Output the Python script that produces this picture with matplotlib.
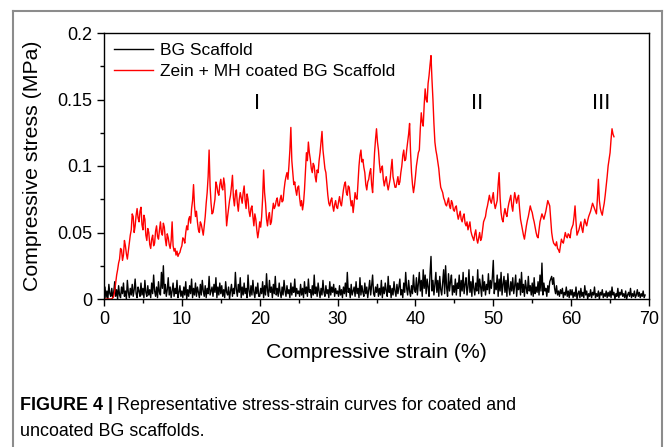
import numpy as np
import matplotlib
matplotlib.use("Agg")
import matplotlib.pyplot as plt
from matplotlib.lines import Line2D

plt.rcParams['font.family'] = ['Liberation Sans', 'DejaVu Sans']

# Daten (Spannung in 0.001 MPa, Dehnungsschritt 0.125 %)
step = 0.125

# BG Scaffold (unbeschichtet), 0 ... 69.5 %
bg_milli = [
    3, 9, 1, 6, 0, 11, 4, 2, 8, 1, 5, 13, 2, 7, 0, 10, 3, 1, 9, 4, 12, 2, 6, 0, 14, 5, 1, 8, 3, 11, 2, 7, 15, 4, 1, 9, 6, 2, 12, 3,
    8, 1, 14, 5, 2, 10, 3, 7, 1, 12, 4, 18, 6, 2, 9, 1, 13, 5, 3, 20, 8, 25, 4, 11, 2, 7, 16, 3, 9, 1, 6, 12, 2, 8, 4, 14, 1, 5, 10, 2,
    6, 1, 9, 3, 13, 0, 7, 2, 10, 4, 15, 1, 8, 3, 12, 2, 9, 5, 1, 11, 3, 14, 6, 2, 10, 1, 8, 4, 17, 3, 6, 9, 2, 11, 5, 16, 1, 9, 3, 12,
    4, 10, 2, 7, 1, 13, 5, 3, 9, 0, 6, 11, 2, 8, 4, 20, 7, 2, 11, 5, 16, 1, 9, 3, 12, 4, 8, 1, 18, 6, 2, 10, 3, 14, 5, 1, 9, 4, 12, 2,
    2, 8, 4, 13, 1, 10, 3, 19, 6, 2, 14, 5, 9, 1, 11, 4, 17, 3, 8, 2, 12, 5, 1, 9, 3, 14, 6, 2, 10, 4, 7, 1, 12, 3, 9, 5, 15, 2, 8, 4,
    6, 2, 11, 3, 8, 1, 13, 4, 9, 2, 15, 5, 7, 1, 10, 3, 18, 4, 9, 2, 12, 6, 1, 8, 3, 14, 5, 2, 10, 4, 7, 1, 13, 3, 9, 5, 11, 2, 8, 4,
    6, 2, 10, 3, 7, 1, 9, 4, 12, 2, 20, 5, 8, 1, 11, 3, 6, 9, 2, 13, 4, 8, 1, 16, 3, 10, 5, 2, 12, 4, 9, 1, 7, 14, 3, 10, 18, 4, 2, 9,
    5, 11, 2, 8, 3, 14, 1, 9, 4, 12, 6, 2, 17, 5, 10, 1, 8, 3, 13, 6, 2, 11, 4, 9, 15, 3, 7, 1, 12, 5, 20, 8, 3, 14, 6, 2, 10, 4, 18, 7,
    5, 16, 3, 12, 20, 6, 14, 2, 22, 8, 18, 4, 15, 9, 2, 19, 32, 6, 14, 3, 11, 20, 5, 14, 2, 17, 7, 3, 12, 22, 4, 25, 9, 2, 19, 6, 13, 18, 3, 10,
    5, 15, 3, 12, 8, 18, 2, 14, 6, 20, 4, 11, 16, 3, 9, 22, 5, 13, 2, 17, 8, 3, 12, 6, 22, 4, 15, 9, 2, 18, 6, 13, 3, 11, 7, 19, 4, 14, 8, 16,
    29, 4, 12, 7, 18, 2, 15, 6, 20, 3, 11, 17, 5, 14, 2, 19, 8, 3, 13, 6, 16, 4, 10, 18, 2, 12, 7, 15, 3, 20, 5, 11, 2, 14, 8, 4, 17, 6, 10, 3,
    12, 2, 16, 4, 9, 5, 13, 3, 18, 6, 27, 3, 12, 6, 8, 2, 10, 5, 13, 15, 17, 11, 16, 8, 4, 10, 3, 6, 2, 7, 4, 8, 1, 5, 3, 9, 2, 6, 1, 7,
    3, 7, 1, 5, 2, 9, 0, 4, 6, 1, 8, 2, 5, 1, 10, 3, 6, 0, 4, 2, 7, 1, 5, 3, 9, 1, 4, 2, 6, 0, 5, 3, 7, 1, 4, 2, 6, 1, 5, 2,
    6, 1, 9, 3, 5, 0, 4, 2, 8, 1, 5, 3, 7, 2, 4, 1, 6, 0, 3, 5, 2, 8, 1, 4, 2, 6, 1, 3, 7, 2, 5, 1, 4, 2, 6, 1, 3,
]

# Zein + MH beschichtet, 0 ... 65.5 %
zein_milli = [
    0, 0, 0, 0, 0, 0, 0, 0, 0, 1, 2, 6, 12, 18, 22, 27, 30, 38, 37, 29, 33, 44, 40, 34, 30, 36, 42, 48, 52, 64, 62, 50, 55, 63, 68, 61, 58, 66, 69, 56,
    52, 63, 60, 48, 44, 53, 50, 41, 38, 45, 48, 40, 42, 51, 55, 47, 45, 52, 58, 50, 48, 57, 54, 45, 40, 49, 46, 41, 38, 44, 58, 40, 36, 38, 33, 36, 32, 34, 35, 38,
    40, 46, 45, 42, 50, 55, 52, 60, 62, 57, 68, 74, 86, 70, 62, 66, 58, 52, 50, 58, 56, 52, 48, 55, 62, 72, 80, 92, 112, 85, 72, 64, 65, 70, 75, 88, 85, 80, 78, 86,
    90, 84, 82, 91, 86, 70, 55, 62, 68, 74, 78, 85, 93, 76, 70, 79, 82, 72, 66, 75, 80, 76, 72, 80, 85, 74, 68, 79, 75, 66, 62, 68, 70, 62, 55, 64, 60, 52, 46, 51,
    58, 54, 62, 76, 97, 80, 72, 60, 55, 62, 65, 56, 58, 66, 72, 68, 70, 74, 76, 70, 70, 75, 78, 73, 74, 82, 88, 92, 95, 90, 100, 112, 129, 104, 95, 86, 88, 82, 78, 84,
    85, 76, 70, 74, 67, 72, 82, 96, 110, 104, 118, 110, 105, 98, 95, 102, 100, 92, 88, 97, 95, 104, 110, 118, 126, 112, 105, 98, 95, 86, 78, 72, 70, 74, 76, 70, 66, 71, 74, 69,
    68, 73, 77, 72, 70, 76, 82, 86, 88, 80, 78, 85, 84, 76, 70, 74, 65, 72, 80, 76, 75, 88, 100, 108, 112, 103, 105, 99, 95, 86, 82, 88, 90, 95, 98, 86, 80, 95, 110, 120,
    128, 118, 112, 102, 95, 98, 100, 90, 85, 89, 92, 86, 82, 86, 90, 98, 105, 92, 88, 84, 84, 88, 92, 86, 88, 95, 100, 108, 112, 104, 105, 112, 118, 124, 132, 110, 95, 86, 80, 85,
    92, 100, 105, 110, 112, 128, 140, 133, 130, 146, 158, 150, 148, 162, 168, 176, 183, 165, 150, 132, 118, 112, 108, 103, 98, 90, 84, 82, 80, 76, 74, 71, 70, 73, 76, 70, 68, 74, 72, 67,
    66, 69, 70, 64, 60, 63, 66, 60, 58, 62, 64, 57, 55, 58, 52, 55, 58, 51, 48, 46, 44, 49, 52, 45, 42, 46, 50, 44, 46, 52, 58, 60, 62, 67, 70, 74, 78, 74, 72, 76,
    80, 72, 68, 71, 74, 86, 95, 76, 65, 60, 58, 64, 68, 64, 62, 68, 72, 75, 78, 70, 66, 74, 80, 76, 72, 76, 78, 68, 60, 56, 52, 48, 45, 50, 55, 59, 62, 66, 70, 67,
    65, 61, 58, 54, 50, 47, 46, 52, 58, 61, 64, 62, 60, 63, 66, 70, 74, 72, 70, 60, 50, 45, 42, 41, 40, 43, 38, 37, 35, 40, 45, 43, 42, 46, 50, 47, 46, 49, 48, 46,
    52, 54, 56, 62, 70, 58, 48, 50, 52, 55, 58, 53, 50, 56, 60, 57, 55, 59, 62, 64, 66, 69, 72, 70, 68, 66, 64, 76, 90, 74, 68, 65, 63, 68, 72, 78, 85, 92, 100, 105,
    110, 120, 128, 124, 122,
]

# Bereichsmarken
region_labels = ["I", "II", "III"]
region_strain = [19.65, 47.9, 63.8]
region_stress = 0.147

bg_stress = np.array(bg_milli) / 1000
zein_stress = np.array(zein_milli) / 1000
bg_strain = np.arange(len(bg_stress)) * step
zein_strain = np.arange(len(zein_stress)) * step

fig = plt.figure(figsize=(6.68, 4.47), dpi=100)
ax = fig.add_axes([104/668, 1 - 299/447, 545/668, 266/447])

ax.plot(bg_strain, bg_stress, color="black", lw=1.0, label="BG Scaffold")
ax.plot(zein_strain, zein_stress, color="#ff0000", lw=1.0,
        label="Zein + MH coated BG Scaffold")

for lab, s in zip(region_labels, region_strain):
    ax.text(s, region_stress, lab, fontsize=16, ha="center", va="center")

ax.set_xlim(0, 70)
ax.set_ylim(0, 0.2)
ax.set_xticks([0, 10, 20, 30, 40, 50, 60, 70])
ax.set_xticks(np.arange(5, 70, 10), minor=True)
ax.set_yticks([0, 0.05, 0.1, 0.15, 0.2])
ax.set_yticklabels(["0", "0.05", "0.1", "0.15", "0.2"])
ax.set_yticks([0.025, 0.075, 0.125, 0.175], minor=True)
ax.tick_params(which="both", direction="out", labelsize=13, width=1.0)
ax.tick_params(which="major", length=5)
ax.tick_params(which="minor", length=3)
for sp in ax.spines.values():
    sp.set_linewidth(1.0)

ax.set_xlabel("Compressive strain (%)", fontsize=15.3, labelpad=11)
ax.set_ylabel("Compressive stress (MPa)", fontsize=15.3, labelpad=11)

leg = ax.legend(loc="upper left", frameon=False, fontsize=12.5,
                handlelength=2.3, handletextpad=0.4, labelspacing=0.36,
                borderaxespad=0.15)

# grauer Rahmen um die Abbildung
gray = "#8c8c8c"
fig.add_artist(Line2D([13/668, 13/668], [0, 1 - 11/447], transform=fig.transFigure, color=gray, lw=1.5))
fig.add_artist(Line2D([13/668, 662/668], [1 - 11/447, 1 - 11/447], transform=fig.transFigure, color=gray, lw=1.5))
fig.add_artist(Line2D([662/668, 662/668], [0, 1 - 11/447], transform=fig.transFigure, color=gray, lw=1.5))

# Bildunterschrift
t1 = fig.text(20/668, 1 - 406/447, "FIGURE 4 |", fontsize=12.9, fontweight="bold", va="center")
fig.text(20/668, 1 - 431/447, "uncoated BG scaffolds.", fontsize=12.9, va="center")
fig.canvas.draw()
bb = t1.get_window_extent()
fig.text((bb.x1 + 4) / 668, 1 - 406/447,
         "Representative stress-strain curves for coated and", fontsize=12.9, va="center")

plt.savefig("out.png", dpi=100)
